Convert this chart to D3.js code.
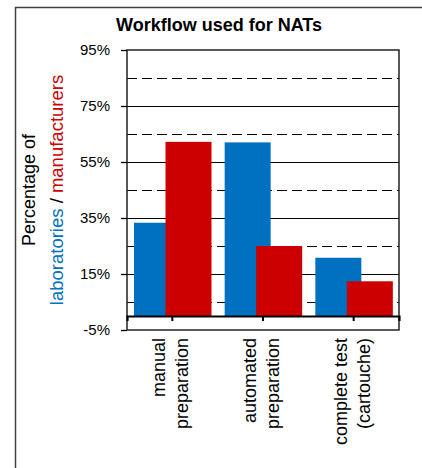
<!doctype html>
<html lang="en">
<head>
<meta charset="utf-8">
<title>Workflow used for NATs</title>
<script src="https://cdn.jsdelivr.net/npm/d3@7"></script>
<style>
  body { margin: 0; background: #fff; }
  svg text { font-family: "Liberation Sans", Arial, sans-serif; }
</style>
</head>
<body>
<svg id="chart"></svg>
<script>
  // data
  var categories = [["manual", "preparation"], ["automated", "preparation"], ["complete test", "(cartouche)"]];
  var laboratories = [33.3, 62.0, 20.8];
  var manufacturers = [62.2, 25.0, 12.4];
  var majorTicks = [-5, 15, 35, 55, 75, 95];
  var minorTicks = [5, 25, 45, 65, 85];

  var W = 422, H = 468;
  var plot = {left: 127, right: 399, top: 50, bottom: 330};
  var blue = "#0070c0", red = "#cc0000";

  var svg = d3.select("#chart").attr("width", W).attr("height", H);

  // outer frame (left + top only visible)
  svg.append("path")
    .attr("d", "M15.5," + H + "V7.5H" + W)
    .attr("fill", "none").attr("stroke", "#404040").attr("stroke-width", 1.5);

  svg.append("text")
    .attr("x", 219).attr("y", 31)
    .attr("text-anchor", "middle")
    .attr("font-size", 18).attr("font-weight", "bold")
    .text("Workflow used for NATs");

  var y = d3.scaleLinear().domain([-5, 95]).range([plot.bottom, plot.top]);
  var x = d3.scaleBand().domain(d3.range(categories.length)).range([plot.left, plot.right]);

  // grid lines
  var grid = svg.append("g").attr("shape-rendering", "crispEdges");
  grid.selectAll("line.major")
    .data(majorTicks.filter(function(d){ return d > -5 && d < 95; }))
    .enter().append("line")
    .attr("x1", plot.left).attr("x2", plot.right)
    .attr("y1", function(d){ return Math.round(y(d)) + 0.5; })
    .attr("y2", function(d){ return Math.round(y(d)) + 0.5; })
    .attr("stroke", "#000").attr("stroke-width", 1.3);
  grid.selectAll("line.minor")
    .data(minorTicks)
    .enter().append("line")
    .attr("x1", plot.left).attr("x2", plot.right)
    .attr("y1", function(d){ return Math.round(y(d)) + 0.5; })
    .attr("y2", function(d){ return Math.round(y(d)) + 0.5; })
    .attr("stroke", "#000").attr("stroke-width", 1.3)
    .attr("stroke-dasharray", "10,5");

  // bars: blue first, red overlapping on top
  var barW = 46;
  svg.append("g").selectAll("rect")
    .data(laboratories)
    .enter().append("rect")
    .attr("x", function(d, i){ return x(i) + 7; })
    .attr("y", function(d){ return y(d); })
    .attr("width", barW)
    .attr("height", function(d){ return y(0) - y(d); })
    .attr("fill", blue);
  svg.append("g").selectAll("rect")
    .data(manufacturers)
    .enter().append("rect")
    .attr("x", function(d, i){ return x(i) + 38.5; })
    .attr("y", function(d){ return y(d); })
    .attr("width", barW)
    .attr("height", function(d){ return y(0) - y(d); })
    .attr("fill", red);

  // plot frame
  svg.append("rect")
    .attr("x", plot.left).attr("y", plot.top)
    .attr("width", plot.right - plot.left).attr("height", plot.bottom - plot.top)
    .attr("fill", "none").attr("stroke", "#222").attr("stroke-width", 1.5);

  // y axis
  var yAxis = d3.axisLeft(y).tickValues(majorTicks)
    .tickFormat(function(d){ return d + "%"; })
    .tickSize(6).tickPadding(11);
  var gy = svg.append("g").attr("transform", "translate(" + plot.left + ",0)").call(yAxis);
  gy.select(".domain").remove();
  gy.selectAll("text").attr("font-size", 15).attr("fill", "#000")
    .style("font-family", "'Liberation Sans', Arial, sans-serif");
  gy.selectAll("line").attr("stroke", "#000").attr("stroke-width", 1.3);

  // x axis at 0%
  var xAxis = d3.axisBottom(x).tickSize(5).tickSizeOuter(5).tickFormat("");
  var gx = svg.append("g").attr("transform", "translate(0," + y(0) + ")").call(xAxis);
  gx.select(".domain").attr("stroke", "#000").attr("stroke-width", 2.2);
  gx.selectAll(".tick line").attr("stroke", "#000").attr("stroke-width", 2);

  // category labels, rotated, two lines each
  var labels = svg.append("g").selectAll("g")
    .data(categories)
    .enter().append("g")
    .attr("transform", function(d, i){ return "translate(" + (x(i) + x.bandwidth() / 2) + ",338)"; });
  labels.selectAll("text")
    .data(function(d){ return d; })
    .enter().append("text")
    .attr("transform", function(d, j){ return "translate(" + (j === 0 ? -7 : 16) + ",0) rotate(-90)"; })
    .attr("text-anchor", "end")
    .attr("font-size", 18)
    .text(function(d){ return d; });

  // y axis title
  var yt = svg.append("g").attr("transform", "translate(0,190)");
  yt.append("text")
    .attr("transform", "translate(35,0) rotate(-90)")
    .attr("text-anchor", "middle").attr("font-size", 18)
    .text("Percentage of");
  var t2 = yt.append("text")
    .attr("transform", "translate(63,0) rotate(-90)")
    .attr("text-anchor", "middle").attr("font-size", 18.5);
  t2.append("tspan").attr("fill", blue).text("laboratories");
  t2.append("tspan").attr("fill", "#000").text(" / ");
  t2.append("tspan").attr("fill", red).text("manufacturers");
</script>
</body>
</html>
